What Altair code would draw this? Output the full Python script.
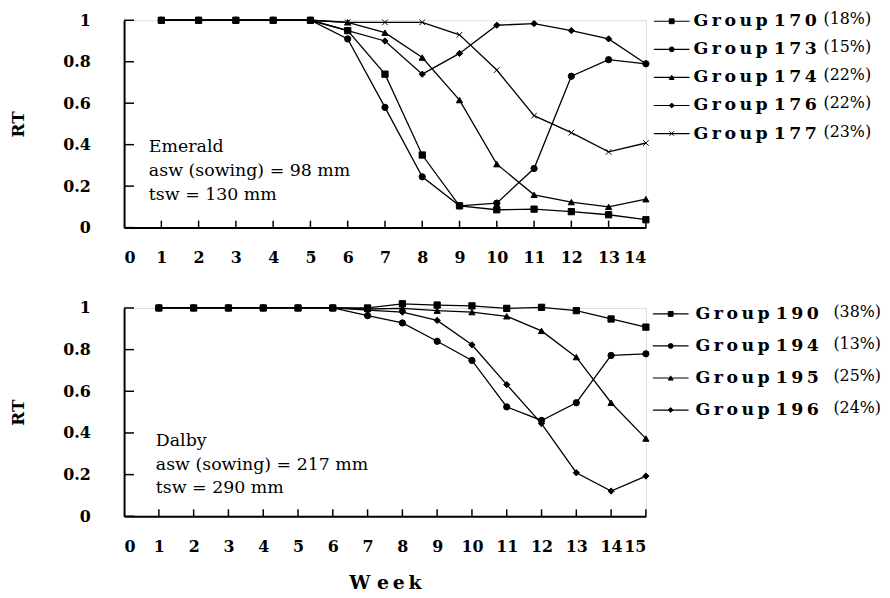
import altair as alt
import pandas as pd

# ---------------- data ----------------
weeks_top = list(range(1, 15))
groups_top = ["170", "173", "174", "176", "177"]
pct_top = ["(18%)", "(15%)", "(22%)", "(22%)", "(23%)"]
rt_170 = [1, 1, 1, 1, 1, 0.95, 0.74, 0.35, 0.105, 0.086, 0.089, 0.077, 0.062, 0.038]
rt_173 = [1, 1, 1, 1, 1, 0.91, 0.58, 0.245, 0.105, 0.118, 0.285, 0.73, 0.81, 0.79]
rt_174 = [1, 1, 1, 1, 1, 0.99, 0.94, 0.82, 0.615, 0.306, 0.158, 0.123, 0.10, 0.137]
rt_176 = [1, 1, 1, 1, 1, 0.95, 0.90, 0.74, 0.84, 0.976, 0.984, 0.95, 0.91, 0.79]
rt_177 = [1, 1, 1, 1, 1, 0.99, 0.99, 0.99, 0.93, 0.76, 0.54, 0.458, 0.365, 0.408]

weeks_bot = list(range(1, 16))
groups_bot = ["190", "194", "195", "196"]
pct_bot = ["(38%)", "(13%)", "(25%)", "(24%)"]
rt_190 = [1, 1, 1, 1, 1, 1, 1.0, 1.02, 1.014, 1.01, 0.998, 1.003, 0.987, 0.947, 0.908]
rt_194 = [1, 1, 1, 1, 1, 1, 0.963, 0.928, 0.84, 0.748, 0.525, 0.46, 0.545, 0.772, 0.78]
rt_195 = [1, 1, 1, 1, 1, 1, 0.995, 0.998, 0.987, 0.98, 0.96, 0.89, 0.764, 0.545, 0.373]
rt_196 = [1, 1, 1, 1, 1, 1, 0.99, 0.98, 0.94, 0.823, 0.632, 0.445, 0.209, 0.121, 0.193]

x_ticks_top = list(range(0, 15))
x_ticks_bot = list(range(0, 16))
y_ticks = [0, 0.2, 0.4, 0.6, 0.8, 1]

ann_top = ["Emerald", "asw (sowing) = 98 mm", "tsw = 130 mm"]
ann_bot = ["Dalby", "asw (sowing) = 217 mm", "tsw = 290 mm"]

X_PATH = "M-0.9,-0.9L0.9,0.9M-0.9,0.9L0.9,-0.9"
shapes_top = ["square", "circle", "triangle-up", "diamond", X_PATH]
shapes_bot = ["square", "circle", "triangle-up", "diamond"]

FONT = "DejaVu Serif"
THIN = "\u2009"


def spaced(s):
    return THIN.join(list(s))


def long_df(weeks, groups, series):
    rows = []
    for g, vals in zip(groups, series):
        for w, v in zip(weeks, vals):
            rows.append({"group": g, "week": w, "rt": v})
    return pd.DataFrame(rows)


def panel(df, groups, pcts, shapes, xmax, xvals, width, height, xtitle,
          ann, ann_x, ann_y, ann_dy, leg_x0, leg_x1, leg_m, leg_t, leg_p, leg_y0, leg_dy):
    shape_scale = alt.Scale(domain=groups, range=shapes)
    x_axis = alt.Axis(values=xvals, tickCount=len(xvals), ticks=False, tickSize=0, grid=False,
                      labelFont=FONT, labelFontSize=16, labelFontWeight="bold",
                      labelPadding=22, labelOverlap=False, labelSeparation=0,
                      labelColor="black", format="d",
                      domainColor="black", domainWidth=2,
                      title=xtitle if xtitle else None,
                      titleFont=FONT, titleFontSize=19, titleFontWeight="bold",
                      titlePadding=20, titleColor="black")
    y_axis = alt.Axis(values=y_ticks, ticks=False, tickSize=0, grid=False,
                      labelExpr="datum.value == 0 ? '0' : datum.value == 1 ? '1' : format(datum.value, '.1f')",
                      labelFont=FONT, labelFontSize=16, labelFontWeight="bold",
                      labelPadding=34, labelColor="black", labelOverlap=False,
                      domainColor="black", domainWidth=2,
                      title="RT", titleFont=FONT, titleFontSize=17, titleFontWeight="bold",
                      titlePadding=36, titleColor="black")
    xs = alt.Scale(domain=[0, xmax], nice=False, zero=False)
    ys = alt.Scale(domain=[0, 1], nice=False)
    X = lambda: alt.X("week:Q", scale=xs, axis=x_axis)
    Y = lambda: alt.Y("rt:Q", scale=ys, axis=y_axis)

    base = alt.Chart(df)
    lines = base.mark_line(color="black", strokeWidth=1.3).encode(
        x=X(), y=Y(), detail="group:N",
    )
    pts = base.mark_point(filled=True, size=40, color="black", stroke="black",
                          strokeWidth=1, opacity=1).encode(
        x=X(), y=Y(),
        shape=alt.Shape("group:N", scale=shape_scale, legend=None),
    )
    yt = alt.Chart(pd.DataFrame({"rt": y_ticks})).mark_rule(color="black", strokeWidth=1.5).encode(
        y=Y(), x=alt.value(0), x2=alt.value(10))
    xt = alt.Chart(pd.DataFrame({"week": xvals[1:]})).mark_rule(color="black", strokeWidth=1.5).encode(
        x=X(), y=alt.value(height), y2=alt.value(height - 7))

    layers = [lines, pts, yt, xt]
    for i, t in enumerate(ann):
        layers.append(
            alt.Chart(pd.DataFrame({"t": [t]})).mark_text(
                align="left", baseline="middle", font=FONT, fontSize=17.5, color="black"
            ).encode(x=alt.value(ann_x), y=alt.value(ann_y + ann_dy * i), text="t:N"))
    for i, (g, p) in enumerate(zip(groups, pcts)):
        ly = leg_y0 + leg_dy * i
        gdf = pd.DataFrame({"group": [g], "label": [spaced("Group") + "  " + spaced(g)], "pct": [p]})
        gc = alt.Chart(gdf)
        layers.append(gc.mark_rule(color="black", strokeWidth=1.2).encode(
            x=alt.value(leg_x0), x2=alt.value(leg_x1), y=alt.value(ly)))
        layers.append(gc.mark_point(filled=True, size=24, color="black", stroke="black",
                                    strokeWidth=1, opacity=1).encode(
            x=alt.value(leg_m), y=alt.value(ly),
            shape=alt.Shape("group:N", scale=shape_scale, legend=None)))
        layers.append(gc.mark_text(align="left", baseline="middle", font=FONT, fontSize=17.5,
                                   fontWeight="bold", color="black").encode(
            x=alt.value(leg_t), y=alt.value(ly), text="label:N"))
        layers.append(gc.mark_text(align="left", baseline="middle", font=FONT, fontSize=16,
                                   color="black").encode(
            x=alt.value(leg_p), y=alt.value(ly - 2), text="pct:N"))
    return alt.layer(*layers).properties(width=width, height=height)


df_top = long_df(weeks_top, groups_top, [rt_170, rt_173, rt_174, rt_176, rt_177])
df_bot = long_df(weeks_bot, groups_bot, [rt_190, rt_194, rt_195, rt_196])

top = panel(df_top, groups_top, pct_top, shapes_top, 14, x_ticks_top, 526, 209, None,
            ann_top, 25, 128, 24, 534, 570, 552, 574, 705, 1, 28.3)
bot = panel(df_bot, groups_bot, pct_bot, shapes_bot, 15, x_ticks_bot, 526, 210,
            "W e" + THIN + "e" + THIN + "k",
            ann_bot, 32, 134, 24, 533, 569, 551, 576, 715, 6, 32.3)

chart = alt.vconcat(top, bot, spacing=81, bounds="flush").properties(
    padding={"left": 0, "top": 0, "right": 0, "bottom": 0}
).configure_view(stroke=None).configure(font=FONT, background="white")

chart.save("out.html", embed_options={"renderer": "svg", "actions": False})
